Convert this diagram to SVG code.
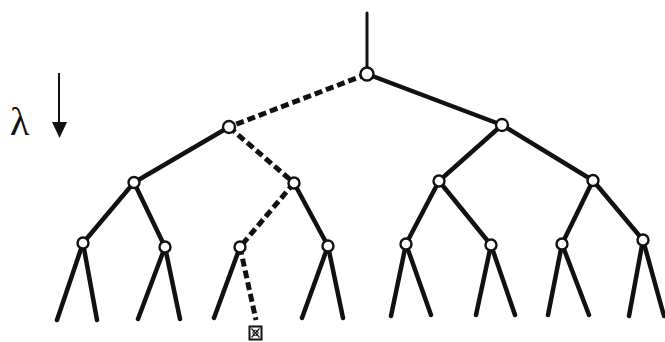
<svg xmlns="http://www.w3.org/2000/svg" width="665" height="342" viewBox="0 0 665 342">
<style>
.e{stroke:#111;stroke-width:4.5;stroke-linecap:round;fill:none}
.d{stroke:#111;stroke-width:5;stroke-dasharray:8 4;fill:none}
.n{fill:#fff;stroke:#111;stroke-width:2.4}
.lbl{font-family:"Liberation Serif","DejaVu Serif",serif;font-size:40px;fill:#111}
</style>
<rect width="665" height="342" fill="#fff"/>
<g id="legend">
<text class="lbl" x="10" y="135">λ</text>
<line x1="59" y1="73" x2="59" y2="124" stroke="#111" stroke-width="2"/>
<polygon points="52,122 67,122 59.5,138" fill="#111"/>
</g>
<g id="connectors">
<line class="e" x1="367" y1="13" x2="367" y2="74" style="stroke-width:3"/>
<line class="d" x1="367" y1="74" x2="229" y2="127"/>
<line class="e" x1="367" y1="74" x2="502" y2="125"/>
<line class="e" x1="229" y1="127" x2="134" y2="182.5"/>
<line class="d" x1="229" y1="127" x2="294" y2="183"/>
<line class="e" x1="502" y1="125" x2="439" y2="181"/>
<line class="e" x1="502" y1="125" x2="593" y2="180.5"/>
<line class="e" x1="134" y1="182.5" x2="83" y2="243"/>
<line class="e" x1="134" y1="182.5" x2="165" y2="247"/>
<line class="d" x1="294" y1="183" x2="240" y2="247"/>
<line class="e" x1="294" y1="183" x2="328" y2="246"/>
<line class="e" x1="439" y1="181" x2="406" y2="244"/>
<line class="e" x1="439" y1="181" x2="491" y2="245"/>
<line class="e" x1="593" y1="180.5" x2="562" y2="244"/>
<line class="e" x1="593" y1="180.5" x2="643" y2="240"/>
<line class="e" x1="83" y1="243" x2="57" y2="320"/>
<line class="e" x1="83" y1="243" x2="97" y2="320"/>
<line class="e" x1="165" y1="247" x2="138" y2="319"/>
<line class="e" x1="165" y1="247" x2="180" y2="319"/>
<line class="e" x1="240" y1="247" x2="214" y2="318"/>
<line class="d" x1="240" y1="247" x2="256" y2="320"/>
<line class="e" x1="328" y1="246" x2="302" y2="318"/>
<line class="e" x1="328" y1="246" x2="343" y2="318"/>
<line class="e" x1="406" y1="244" x2="391" y2="316"/>
<line class="e" x1="406" y1="244" x2="431" y2="315"/>
<line class="e" x1="491" y1="245" x2="476" y2="315"/>
<line class="e" x1="491" y1="245" x2="515" y2="315"/>
<line class="e" x1="562" y1="244" x2="548" y2="315"/>
<line class="e" x1="562" y1="244" x2="589" y2="315"/>
<line class="e" x1="643" y1="240" x2="629" y2="316"/>
<line class="e" x1="643" y1="240" x2="664" y2="316"/>
</g>
<g id="n0"><circle class="n" cx="367" cy="74" r="6.5"/></g>
<g id="n1"><circle class="n" cx="229" cy="127" r="6"/></g>
<g id="n2"><circle class="n" cx="502" cy="125" r="6"/></g>
<g id="n3"><circle class="n" cx="134" cy="182.5" r="5.5"/></g>
<g id="n4"><circle class="n" cx="294" cy="183" r="5.5"/></g>
<g id="n5"><circle class="n" cx="439" cy="181" r="5.5"/></g>
<g id="n6"><circle class="n" cx="593" cy="180.5" r="5.5"/></g>
<g id="n7"><circle class="n" cx="83" cy="243" r="5.5"/></g>
<g id="n8"><circle class="n" cx="165" cy="247" r="5.5"/></g>
<g id="n9"><circle class="n" cx="240" cy="247" r="5.5"/></g>
<g id="n10"><circle class="n" cx="328" cy="246" r="5.5"/></g>
<g id="n11"><circle class="n" cx="406" cy="244" r="5.5"/></g>
<g id="n12"><circle class="n" cx="491" cy="245" r="5.5"/></g>
<g id="n13"><circle class="n" cx="562" cy="244" r="5.5"/></g>
<g id="n14"><circle class="n" cx="643" cy="240" r="5.5"/></g>
<g id="target">
<rect x="249.5" y="326.5" width="12" height="13" fill="#fff" stroke="#111" stroke-width="2"/>
<path d="M251.5,328.5 L259.5,337.5 M259.5,328.5 L251.5,337.5" stroke="#111" stroke-width="1.2"/>
<circle cx="255.5" cy="333" r="2.6" fill="none" stroke="#111" stroke-width="1"/>
</g>
</svg>
